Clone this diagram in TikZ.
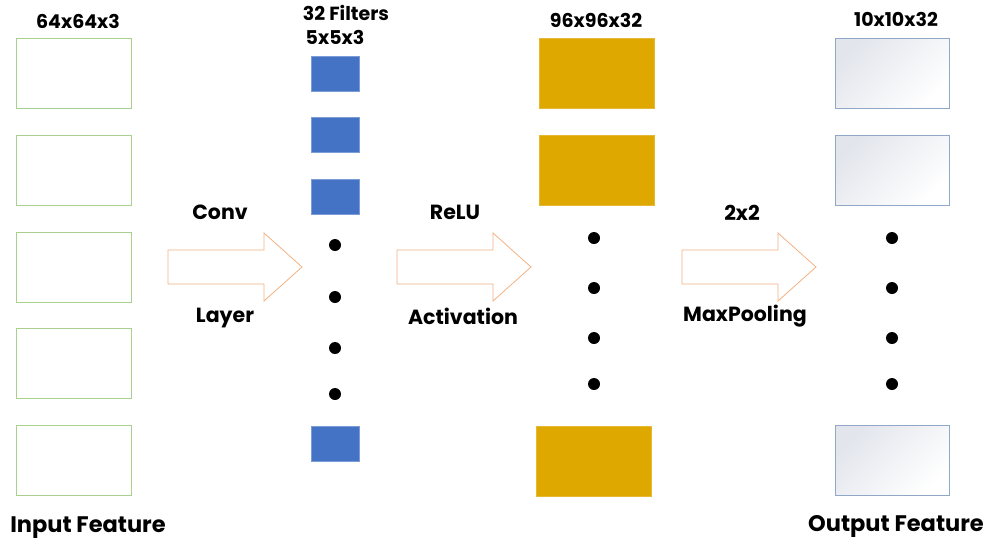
\documentclass[tikz,border=0pt]{standalone}
\usepackage{fontspec}
\setmainfont{Poppins}
\definecolor{inGreen}{HTML}{A9D18E}
\definecolor{filtBlue}{HTML}{4472C4}
\definecolor{actGold}{HTML}{DEA800}
\definecolor{arrOrange}{HTML}{F4B183}
\definecolor{outEdge}{HTML}{8FA8C8}
\definecolor{outShade}{HTML}{E2E5EC}
\begin{document}
\begin{tikzpicture}[x=1pt,y=-1pt,
  inbox/.style={draw=inGreen,line width=1pt,fill=white,minimum width=115pt,minimum height=70pt,inner sep=0pt},
  filt/.style={fill=filtBlue,draw=filtBlue!70!white,line width=0.6pt,minimum width=48pt,minimum height=35pt,inner sep=0pt},
  actbox/.style={fill=actGold,draw=actGold!80!white,line width=0.6pt,minimum width=115pt,minimum height=70pt,inner sep=0pt},
  outbox/.style={draw=outEdge,line width=1pt,top color=outShade,bottom color=white,shading angle=45,minimum width=114pt,minimum height=70pt,inner sep=0pt},
  dot/.style={circle,fill=black,minimum size=12pt,inner sep=0pt},
  lbl/.style={font=\fontsize{19}{22}\selectfont\bfseries,inner sep=0pt},
  stagetxt/.style={font=\fontsize{20.5}{24}\selectfont\bfseries,inner sep=0pt},
  captxt/.style={font=\fontsize{22.5}{26}\selectfont\bfseries,inner sep=0pt},
  blockarrow/.style={draw=arrOrange,line width=0.8pt,fill=white,line join=miter}]
\useasboundingbox (0,0) rectangle (988,547);

% input feature maps
\node[inbox] (in1) at (73.5,73) {};
\node[inbox] (in2) at (73.5,170) {};
\node[inbox] (in3) at (73.5,267) {};
\node[inbox] (in4) at (73.5,363) {};
\node[inbox] (in5) at (73.5,460) {};
\node[lbl] (inlab) at (78,21) {64x64x3};
\node[captxt] (incap) at (88,528) {Input Feature};

% convolution filters
\node[filt] (f1) at (335,73.5) {};
\node[filt] (f2) at (335,134.5) {};
\node[filt] (f3) at (335,196.5) {};
\node[filt] (f4) at (335,443.5) {};
\node[dot] (fd1) at (335,245) {};
\node[dot] (fd2) at (335,297) {};
\node[dot] (fd3) at (335,348) {};
\node[dot] (fd4) at (335,394) {};
\node[lbl] (flab1) at (346,13) {32 Filters};
\node[lbl] (flab2) at (335,37) {5x5x3};

% activation maps
\node[actbox] (a1) at (596.5,73) {};
\node[actbox] (a2) at (596.5,170) {};
\node[actbox] (a3) at (593.5,461) {};
\node[dot] (ad1) at (594,238) {};
\node[dot] (ad2) at (594,288) {};
\node[dot] (ad3) at (594,338) {};
\node[dot] (ad4) at (594,384) {};
\node[lbl] (alab) at (596,20) {96x96x32};

% pooled output maps
\node[outbox] (o1) at (892,73) {};
\node[outbox] (o2) at (892,170) {};
\node[outbox] (o3) at (892,460.5) {};
\node[dot] (od1) at (892,238) {};
\node[dot] (od2) at (892,288) {};
\node[dot] (od3) at (892,338) {};
\node[dot] (od4) at (892,384) {};
\node[lbl] (olab) at (896,19) {10x10x32};
\node[captxt] (ocap) at (896,526) {Output Feature};

% block arrows between the stages
\draw[blockarrow] (168,250) -- (264,250) -- (264,233) -- (302,267) -- (264,301) -- (264,284) -- (168,284) -- cycle;
\draw[blockarrow] (397,250) -- (493,250) -- (493,233) -- (531,267) -- (493,301) -- (493,284) -- (397,284) -- cycle;
\draw[blockarrow] (682,250) -- (778,250) -- (778,233) -- (816,267) -- (778,301) -- (778,284) -- (682,284) -- cycle;

% stage labels
\node[stagetxt] (conv) at (220,212) {Conv};
\node[stagetxt] (layer) at (225,318) {Layer};
\node[stagetxt] (relu) at (455,212) {ReLU};
\node[stagetxt] (actv) at (463,316) {Activation};
\node[stagetxt] (pool) at (742,213) {2x2};
\node[stagetxt] (maxp) at (745,316) {MaxPooling};
\end{tikzpicture}
\end{document}
